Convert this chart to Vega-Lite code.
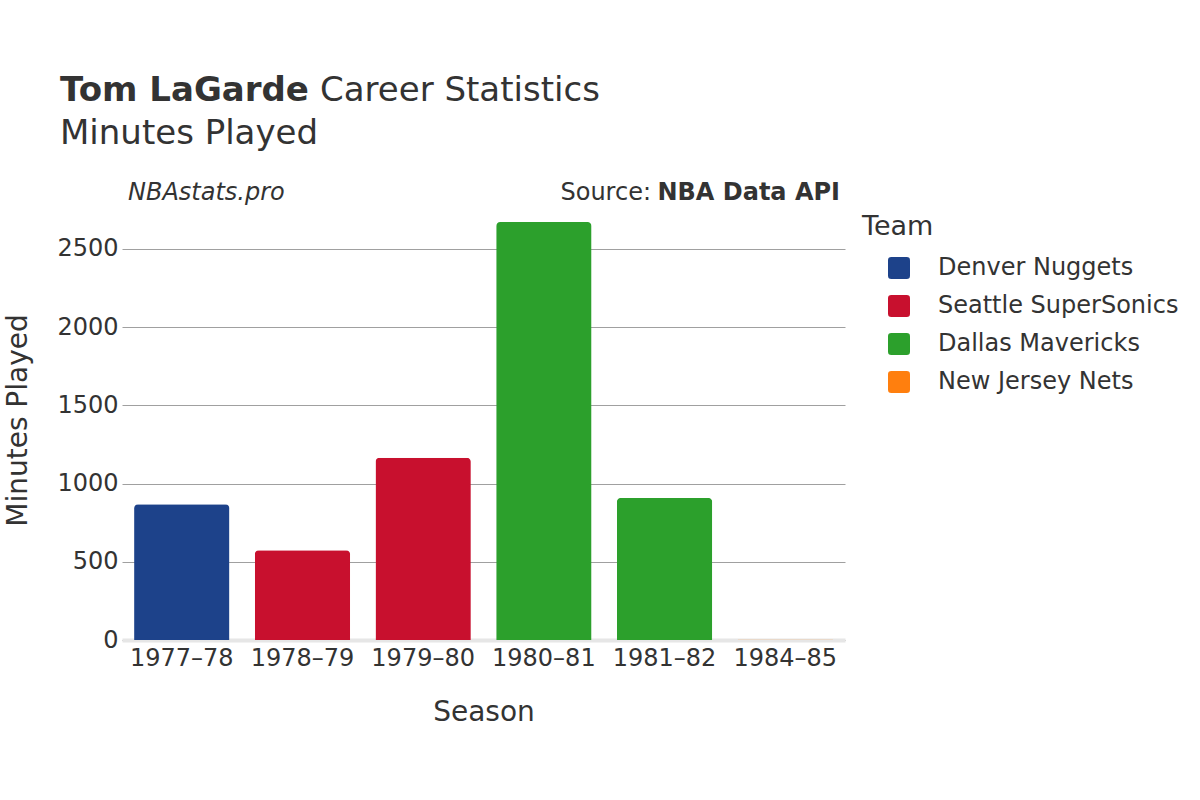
{
  "$schema": "https://vega.github.io/schema/vega-lite/v6.json",
  "width": 723,
  "height": 418,
  "autosize": {"type": "none"},
  "padding": {"left": 122, "top": 222, "right": 355, "bottom": 160},
  "background": "white",
  "config": {
    "font": "DejaVu Sans",
    "view": {"stroke": null},
    "text": {"color": "#333333"}
  },
  "layer": [
    {
      "data": {
        "values": [
          {"Season": "1977–78", "Team": "Denver Nuggets", "Minutes": 868},
          {"Season": "1978–79", "Team": "Seattle SuperSonics", "Minutes": 573},
          {"Season": "1979–80", "Team": "Seattle SuperSonics", "Minutes": 1164},
          {"Season": "1980–81", "Team": "Dallas Mavericks", "Minutes": 2671},
          {"Season": "1981–82", "Team": "Dallas Mavericks", "Minutes": 908},
          {"Season": "1984–85", "Team": "New Jersey Nets", "Minutes": 3}
        ]
      },
      "mark": {"type": "bar", "cornerRadiusTopLeft": 4, "cornerRadiusTopRight": 4},
      "encoding": {
        "x": {
          "field": "Season",
          "type": "nominal",
          "sort": null,
          "scale": {"paddingInner": 0.21, "paddingOuter": 0.1},
          "axis": {
            "title": "Season",
            "labelAngle": 0,
            "labelFontSize": 24,
            "labelColor": "#333333",
            "labelPadding": 6,
            "titleFontSize": 28,
            "titleFontWeight": "normal",
            "titleColor": "#333333",
            "titlePadding": 28,
            "ticks": false,
            "domainColor": "#e6e6e6",
            "domainWidth": 4
          }
        },
        "y": {
          "field": "Minutes",
          "type": "quantitative",
          "scale": {"domain": [0, 2671], "nice": false},
          "axis": {
            "title": "Minutes Played",
            "values": [0, 500, 1000, 1500, 2000, 2500],
            "format": "d",
            "labelFontSize": 24,
            "labelColor": "#333333",
            "labelPadding": 4,
            "titleFontSize": 28,
            "titleFontWeight": "normal",
            "titleColor": "#333333",
            "titlePadding": 24,
            "titleY": 198,
            "ticks": false,
            "domain": false,
            "gridColor": "#a0a0a0",
            "gridWidth": 1
          }
        },
        "color": {
          "field": "Team",
          "type": "nominal",
          "scale": {
            "domain": ["Denver Nuggets", "Seattle SuperSonics", "Dallas Mavericks", "New Jersey Nets"],
            "range": ["#1d428a", "#c8102e", "#2ca02c", "#ff7f0e"]
          },
          "legend": {
            "title": "Team",
            "orient": "none",
            "legendX": 740,
            "legendY": -8,
            "titleFontSize": 27,
            "titleFontWeight": "normal",
            "titleColor": "#333333",
            "titlePadding": 15,
            "labelFontSize": 24,
            "labelColor": "#333333",
            "labelLimit": 0,
            "labelOffset": 27,
            "symbolOffset": 25,
            "symbolType": "M -0.7 -1 H 0.7 Q 1 -1 1 -0.7 V 0.7 Q 1 1 0.7 1 H -0.7 Q -1 1 -1 0.7 V -0.7 Q -1 -1 -0.7 -1 Z",
            "symbolSize": 484,
            "symbolOpacity": 1,
            "symbolStrokeWidth": 0,
            "rowPadding": 14
          }
        }
      }
    },
    {
      "data": {"values": [{}]},
      "mark": {"type": "text", "text": "Tom LaGarde", "x": -62, "y": -121, "align": "left", "baseline": "alphabetic", "fontSize": 34, "fontWeight": "bold", "color": "#333333"}
    },
    {
      "data": {"values": [{}]},
      "mark": {"type": "text", "text": "Career Statistics", "x": 198, "y": -121, "align": "left", "baseline": "alphabetic", "fontSize": 34, "color": "#333333"}
    },
    {
      "data": {"values": [{}]},
      "mark": {"type": "text", "text": "Minutes Played", "x": -62, "y": -78, "align": "left", "baseline": "alphabetic", "fontSize": 34, "color": "#333333"}
    },
    {
      "data": {"values": [{}]},
      "mark": {"type": "text", "text": "NBAstats.pro", "x": 6, "y": -29, "align": "left", "baseline": "middle", "fontSize": 24, "fontStyle": "italic", "color": "#333333"}
    },
    {
      "data": {"values": [{}]},
      "mark": {"type": "text", "text": "Source:", "x": 529, "y": -29, "align": "right", "baseline": "middle", "fontSize": 24, "color": "#333333"}
    },
    {
      "data": {"values": [{}]},
      "mark": {"type": "text", "text": "NBA Data API", "x": 718, "y": -29, "align": "right", "baseline": "middle", "fontSize": 24, "fontWeight": "bold", "color": "#333333"}
    }
  ]
}
